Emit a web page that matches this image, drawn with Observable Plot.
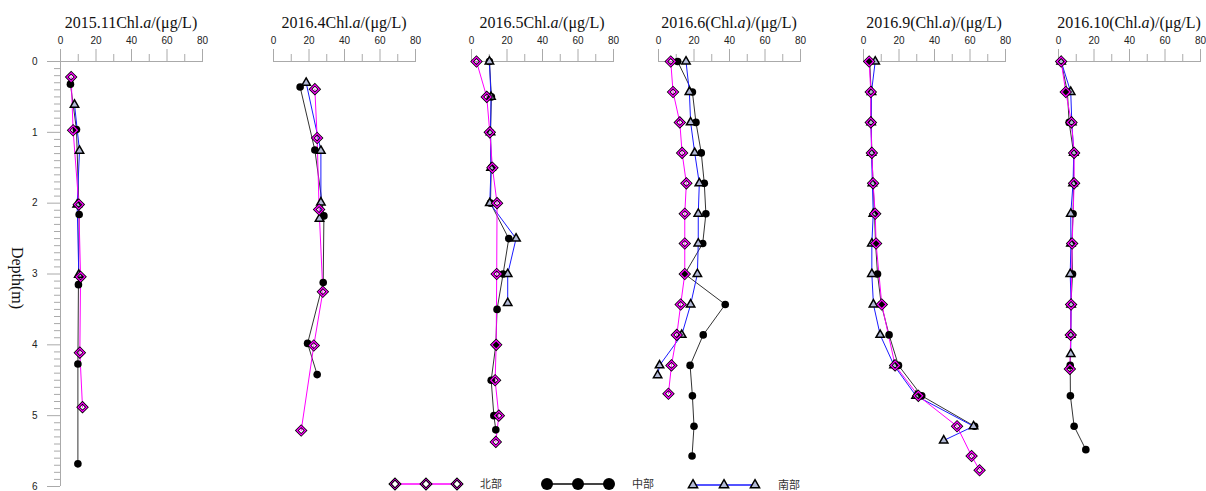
<!DOCTYPE html>
<html><head><meta charset="utf-8">
<script src="https://cdn.jsdelivr.net/npm/d3@7"></script>
<script src="https://cdn.jsdelivr.net/npm/@observablehq/plot@0.6"></script>
<style>
body{margin:0;background:#fff;}
#wrap{position:relative;width:1206px;height:491px;overflow:hidden;background:#fff;}
.panel{position:absolute;top:0;}
.title{position:absolute;top:13px;font-family:"Liberation Serif","Times New Roman",serif;font-size:16px;color:#111;white-space:nowrap;transform:translateX(-50%);line-height:20px;}
.ylab{position:absolute;left:17px;top:278px;font-family:"Liberation Serif","Times New Roman",serif;font-size:16px;color:#111;white-space:nowrap;line-height:16px;transform:translate(-50%,-50%) rotate(90deg);}
</style></head><body><div id="wrap"></div>
<script>
// ---- data: [depth (m), Chl.a (μg/L)] ----
const titlePrefix = ["2015.11Chl.", "2016.4Chl.", "2016.5Chl.", "2016.6(Chl.", "2016.9(Chl.", "2016.10(Chl."];
const titleSuffix = ["/(μg/L)", "/(μg/L)", "/(μg/L)", ")/(μg/L)", ")/(μg/L)", ")/(μg/L)"];
const seriesNames = ["北部", "中部", "南部"];
const xTicks = [0, 20, 40, 60, 80];
const xMinorTicks = [10, 30, 50, 70];
const depthTicks = [0, 1, 2, 3, 4, 5, 6];

const north_201511 = [[0.22,6.0],[0.97,7.1],[2.02,10.3],[3.04,11.3],[4.11,10.9],[4.88,12.4]];
const mid_201511   = [[0.32,5.6],[0.96,9.0],[2.16,10.5],[3.15,10.1],[4.27,9.8],[5.68,9.8]];
const south_201511 = [[0.61,7.9],[1.26,10.7],[2.02,9.4],[3.01,10.3]];

const north_201604 = [[0.39,23.3],[1.08,24.6],[2.09,25.7],[3.25,27.8],[4.01,22.7],[5.21,15.6]];
const mid_201604   = [[0.36,15.0],[1.25,23.3],[2.18,28.4],[3.12,28.0],[3.98,19.2],[4.42,24.6]];
const south_201604 = [[0.30,18.4],[1.26,26.7],[1.99,26.7],[2.22,25.9]];

const north_201605 = [[0.0,2.8],[0.5,8.6],[1.0,10.3],[1.5,11.8],[2.0,14.4],[3.0,14.2],[4.0,13.9],[4.5,13.3],[5.0,15.4],[5.37,13.7]];
const mid_201605   = [[0.0,10.1],[0.5,11.2],[1.0,10.7],[1.5,11.1],[2.0,10.7],[2.5,21.0],[3.0,17.8],[3.5,14.4],[4.0,13.7],[4.5,11.1],[5.0,12.6],[5.2,13.7]];
const south_201605 = [[0.0,10.1],[0.5,11.0],[1.0,10.7],[1.5,11.0],[2.0,10.3],[2.5,25.1],[3.0,20.4],[3.41,20.4]];

const north_201606 = [[0,6.9],[0.43,8.2],[0.86,12.0],[1.29,13.3],[1.72,15.7],[2.15,14.8],[2.57,14.8],[3.0,14.8],[3.43,12.5],[3.86,10.3],[4.29,7.3],[4.69,5.6]];
const mid_201606   = [[0,10.8],[0.43,19.1],[0.86,21.1],[1.29,24.1],[1.72,25.8],[2.15,26.7],[2.57,24.9],[3.0,14.8],[3.43,37.6],[3.86,25.2],[4.29,17.8],[4.72,19.1],[5.15,20.0],[5.57,18.9]];
const south_201606 = [[0,15.5],[0.43,17.4],[0.86,18.1],[1.29,20.4],[1.72,23.0],[2.15,22.4],[2.57,22.4],[3.0,21.9],[3.43,18.1],[3.86,13.1],[4.29,0.6],[4.43,-0.5]];

const north_201609 = [[0,3.2],[0.43,4.1],[0.86,4.1],[1.29,4.7],[1.72,5.4],[2.15,6.6],[2.57,7.1],[3.43,10.3],[4.29,17.8],[4.72,30.9],[5.15,52.7],[5.57,60.9],[5.77,65.4]];
const mid_201609   = [[0,3.5],[0.43,4.3],[0.86,4.3],[1.29,4.7],[1.72,5.4],[2.15,6.2],[2.57,6.8],[3.0,7.9],[3.43,10.0],[3.86,14.4],[4.29,19.7],[4.72,32.8],[5.15,62.6]];
const south_201609 = [[0,6.6],[0.43,4.5],[0.86,4.3],[1.29,4.5],[1.72,5.0],[2.15,5.5],[2.57,4.7],[3.0,4.7],[3.43,5.6],[3.86,9.4],[4.29,17.2],[4.72,29.6],[5.15,62.0],[5.35,45.2]];

const north_201610 = [[0,1.5],[0.43,4.1],[0.86,7.3],[1.29,8.8],[1.72,8.8],[2.57,7.7],[3.43,7.1],[3.86,6.9],[4.34,6.4]];
const mid_201610   = [[0,1.5],[0.43,5.0],[0.86,6.0],[1.29,8.5],[1.72,8.5],[2.15,8.2],[2.57,7.5],[3.0,7.9],[3.43,7.0],[3.86,6.9],[4.29,6.6],[4.72,6.7],[5.15,8.8],[5.48,15.4]];
const south_201610 = [[0,1.5],[0.43,6.9],[0.86,7.5],[1.29,8.6],[1.72,8.2],[2.15,6.9],[2.57,7.0],[3.0,6.6],[3.43,7.1],[3.86,6.9],[4.13,6.9]];

const northData = [north_201511, north_201604, north_201605, north_201606, north_201609, north_201610];
const midData   = [mid_201511, mid_201604, mid_201605, mid_201606, mid_201609, mid_201610];
const southData = [south_201511, south_201604, south_201605, south_201606, south_201609, south_201610];

// ---- layout / style ----
const panelOrigin = [60, 273, 471, 658, 863, 1058];
const plotW = 142;
const axisGray = "#aaaaaa";
const cNorth = "#ff00ff", cMid = "#333333", cSouth = "#1a1aff", triFill = "#b3bad6";

const wrap = document.getElementById("wrap");
const toRows = arr => arr.map(([d, v]) => ({depth: d, chl: v}));
const minorDepth = d3.range(0, 61).map(i => i / 10).filter((v, i) => i % 10 !== 0);

panelOrigin.forEach((x0, i) => {
  const first = i === 0;
  const ml = first ? 60 : 15, mr = 10;
  const N = toRows(northData[i]), M = toRows(midData[i]), S = toRows(southData[i]);
  const marks = [
    Plot.ruleY([0], {x1: 0, x2: 80, stroke: axisGray}),
    Plot.axisX({anchor: "top", ticks: xTicks, tickSize: 13, tickPadding: 5, tickFormat: "d", stroke: axisGray, fill: "#222", label: null}),
    Plot.axisX({anchor: "top", ticks: xMinorTicks, tickSize: 8, tickFormat: () => "", stroke: axisGray, label: null})
  ];
  if (first) {
    marks.push(
      Plot.ruleX([0], {stroke: axisGray}),
      Plot.axisY({anchor: "left", ticks: depthTicks, tickSize: 13, tickPadding: 10, tickFormat: "d", stroke: axisGray, fill: "#222", label: null}),
      Plot.axisY({anchor: "left", ticks: minorDepth, tickSize: 6, tickFormat: () => "", stroke: axisGray, label: null})
    );
  }
  marks.push(
    Plot.line(M, {x: "chl", y: "depth", stroke: cMid, strokeWidth: 1}),
    Plot.line(S, {x: "chl", y: "depth", stroke: cSouth, strokeWidth: 1}),
    Plot.line(N, {x: "chl", y: "depth", stroke: cNorth, strokeWidth: 1}),
    Plot.dot(M, {x: "chl", y: "depth", r: 3.8, fill: "#000", stroke: "none"}),
    Plot.dot(S, {x: "chl", y: "depth", symbol: "triangle2", r: 4.0, fill: triFill, stroke: "#000", strokeWidth: 1.5}),
    Plot.dot(N, {x: "chl", y: "depth", symbol: "diamond2", r: 3.9, fill: "none", stroke: "#000", strokeWidth: 2.8}),
    Plot.dot(N, {x: "chl", y: "depth", symbol: "diamond2", r: 3.9, fill: "none", stroke: cNorth, strokeWidth: 1.2})
  );
  const chart = Plot.plot({
    width: ml + plotW + mr,
    height: 491,
    marginLeft: ml, marginRight: mr, marginTop: 61, marginBottom: 5,
    x: {domain: [0, 80]},
    y: {domain: [0, 6], reverse: true, axis: first ? undefined : null},
    style: {fontFamily: "'Liberation Sans', Arial, sans-serif", fontSize: "10px", overflow: "visible", background: "transparent"},
    marks
  });
  chart.classList.add("panel");
  chart.style.left = (x0 - ml) + "px";
  wrap.appendChild(chart);

  const t = document.createElement("div");
  t.className = "title";
  t.style.left = (x0 + plotW / 2) + "px";
  t.append(titlePrefix[i]);
  const it = document.createElement("i"); it.textContent = "a"; t.append(it);
  t.append(titleSuffix[i]);
  wrap.appendChild(t);
});

const yl = document.createElement("div");
yl.className = "ylab"; yl.textContent = "Depth(m)";
wrap.appendChild(yl);

// ---- legend ----
const legendItems = [
  {name: seriesNames[0], x: 395, color: cNorth, sym: "diamond"},
  {name: seriesNames[1], x: 547, color: "#444", sym: "circle"},
  {name: seriesNames[2], x: 693, color: cSouth, sym: "triangle"}
];
const lg = d3.select(wrap).append("svg")
  .attr("width", 1206).attr("height", 491)
  .style("position", "absolute").style("left", "0px").style("top", "0px").style("pointer-events", "none");
legendItems.forEach(it => {
  const y = it.sym === "triangle" ? 485 : 484;
  const xs = [it.x, it.x + 31, it.x + 62];
  lg.append("line").attr("x1", xs[0]).attr("x2", xs[2]).attr("y1", y).attr("y2", y)
    .attr("stroke", it.color).attr("stroke-width", it.sym === "circle" ? 2 : 1.5);
  xs.forEach(x => {
    if (it.sym === "circle") {
      lg.append("circle").attr("cx", x).attr("cy", y).attr("r", 6).attr("fill", "#000");
    } else if (it.sym === "diamond") {
      const p = d3.symbol(d3.symbolDiamond2, 60)();
      lg.append("path").attr("d", p).attr("transform", `translate(${x},${y})`).attr("fill", "#fff").attr("stroke", "#000").attr("stroke-width", 2.6);
      lg.append("path").attr("d", p).attr("transform", `translate(${x},${y})`).attr("fill", "none").attr("stroke", cNorth).attr("stroke-width", 0.8);
    } else {
      const p = d3.symbol(d3.symbolTriangle2, 60)();
      lg.append("path").attr("d", p).attr("transform", `translate(${x},${y})`).attr("fill", triFill).attr("stroke", "#000").attr("stroke-width", 1.5);
    }
  });
  lg.append("text").attr("x", xs[2] + 23).attr("y", y).attr("dy", "0.35em")
    .attr("font-family", "'Noto Sans CJK SC', sans-serif").attr("font-size", 11).attr("fill", "#333")
    .text(it.name);
});
</script>
</body></html>
